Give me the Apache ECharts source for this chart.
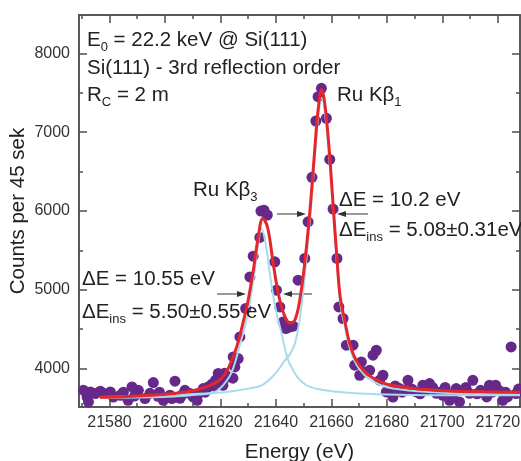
<!DOCTYPE html>
<html>
<head>
<meta charset="utf-8">
<script src="https://cdn.jsdelivr.net/npm/echarts@6/dist/echarts.min.js"></script>
<style>
html, body { margin: 0; padding: 0; background: #fff; }
#chart-01 { width: 521px; height: 461px; }
</style>
</head>
<body>
<div id="chart-01"></div>
<script>
var energy = [21570.6, 21573.1, 21574.9, 21571.9, 21572.4, 21576.7, 21580.3, 21581.4, 21583.9, 21588.1,
    21590.4, 21586.7, 21592.8, 21594.6, 21595.8, 21599.4, 21597.5, 21601.8, 21603.6, 21605.4,
    21607.2, 21609.0, 21610.2, 21611.6, 21613.8, 21615.6, 21616.9, 21619.2, 21620.6, 21622.8,
    21624.5, 21620.9, 21625.2, 21626.4, 21627.0, 21629.1, 21630.6, 21631.8, 21634.2, 21634.6,
    21635.7, 21636.9, 21639.6, 21640.2, 21641.4, 21642.6, 21644.4, 21643.6, 21645.0, 21646.2,
    21648.0, 21650.4, 21651.6, 21653.0, 21654.4, 21655.2, 21656.4, 21658.2, 21659.4, 21660.6,
    21662.0, 21662.7, 21664.2, 21665.4, 21667.8, 21668.4, 21670.8, 21672.0, 21673.8, 21670.2,
    21676.2, 21675.0, 21677.4, 21678.6, 21679.8, 21681.0, 21682.2, 21684.6, 21687.6, 21686.4,
    21690.6, 21693.0, 21695.4, 21694.3, 21697.9, 21700.2, 21702.6, 21705.0, 21706.2, 21707.3,
    21709.8, 21711.0, 21713.8, 21717.0, 21719.2, 21721.8, 21722.8, 21724.8, 21726.6, 21624.6,
    21577.5, 21585.0, 21589.0, 21598.0, 21602.5, 21606.0, 21612.5, 21614.5, 21617.5, 21618.2,
    21621.5, 21683.0, 21685.5, 21689.0, 21692.0, 21696.5, 21699.0, 21701.0, 21704.0, 21708.5,
    21712.5, 21715.0, 21716.0, 21718.0, 21720.5, 21723.5, 21727.5];
var counts = [3725, 3703, 3682, 3639, 3576, 3712, 3703, 3639, 3661, 3766,
    3724, 3597, 3619, 3686, 3822, 3597, 3648, 3661, 3839, 3623,
    3724, 3682, 3639, 3597, 3746, 3766, 3801, 3937, 3890, 3893,
    3877, 3788, 4020, 4127, 4401, 4762, 5163, 5426, 5664, 5998,
    6010, 5947, 5354, 4994, 4782, 4592, 4537, 4508, 4528, 4537,
    5121, 5397, 5862, 6426, 7141, 7449, 7556, 7175, 6654, 6023,
    5397, 4782, 4635, 4296, 4296, 4042, 4084, 3957, 3978, 3915,
    4232, 4169, 3852, 3915, 3703, 3703, 3639, 3746, 3851, 3724,
    3703, 3788, 3810, 3724, 3686, 3661, 3597, 3746, 3576, 3724,
    3686, 3851, 3724, 3788, 3788, 3597, 3699, 4274, 3682, 4147,
    3690, 3700, 3650, 3700, 3620, 3660, 3690, 3700, 3780, 3850,
    3940, 3780, 3700, 3740, 3680, 3760, 3700, 3760, 3680, 3760,
    3680, 3700, 3640, 3700, 3720, 3640, 3740];

// total fit (red)
var fitEnergy = [21576.5, 21585, 21595, 21603, 21610, 21615, 21618, 21620.5, 21622.5, 21624,
    21626, 21628, 21630, 21632, 21633.5, 21635.3, 21637, 21639, 21641, 21643,
    21645, 21647, 21649, 21651, 21652.5, 21654, 21655.3, 21656.5, 21657.7, 21659.2,
    21660.6, 21662, 21663.2, 21664.8, 21666.6, 21669, 21672, 21675, 21680, 21687,
    21695, 21705, 21715, 21728];
var fitCounts = [3636, 3642, 3660, 3683, 3718, 3770, 3815, 3880, 3980, 4100,
    4290, 4560, 4870, 5280, 5640, 5905, 5790, 5340, 4930, 4680,
    4575, 4630, 4960, 5540, 6100, 6780, 7310, 7540, 7340, 6780,
    6090, 5400, 4900, 4610, 4320, 4100, 3960, 3880, 3800, 3760,
    3732, 3712, 3704, 3698];

// Ru Kb3 component (light blue)
var kb3Energy = [21576.5, 21590, 21603, 21612, 21618, 21621, 21624, 21627, 21629.4, 21631.8,
    21633.6, 21634.8, 21636.4, 21638.2, 21640, 21642, 21644.2, 21646, 21648, 21651,
    21655, 21662, 21670, 21685, 21700, 21728];
var kb3Counts = [3627, 3633, 3645, 3670, 3703, 3790, 3950, 4300, 4620, 5110,
    5580, 5778, 5560, 5110, 4740, 4450, 4127, 3990, 3880, 3788,
    3740, 3705, 3683, 3667, 3662, 3660];

// Ru Kb1 component (light blue)
var kb1Energy = [21576.5, 21590, 21600, 21609, 21618, 21625, 21630, 21635, 21639.6, 21643.2,
    21645, 21647, 21649, 21651, 21652.5, 21654, 21655.3, 21656.5, 21657.7, 21659.2,
    21660.6, 21662, 21663.2, 21664.8, 21666.6, 21669, 21672, 21675, 21680, 21687,
    21695, 21705, 21715, 21728];
var kb1Counts = [3640, 3650, 3662, 3675, 3690, 3715, 3745, 3790, 3930, 4100,
    4175, 4333, 4733, 5390, 5975, 6662, 7198, 7433, 7237, 6680,
    5995, 5320, 4828, 4542, 4260, 4050, 3915, 3840, 3762, 3726,
    3701, 3683, 3676, 3671];

var xMajorTicks = [21580, 21600, 21620, 21640, 21660, 21680, 21700, 21720];
var xMinorTicks = [21570, 21590, 21610, 21630, 21650, 21670, 21690, 21710];
var yMajorTicks = [4000, 5000, 6000, 7000, 8000];
var yMinorTicks = [4500, 5500, 6500, 7500];

var xMin = 21569, xMax = 21728;
var yMin = 3512, yMax = 8486;

var FONT = '"Liberation Sans", Arial, sans-serif';
var frameColor = '#4f4f4f';
var textColor = '#222';

function pair(xs, ys) {
    var out = [];
    for (var i = 0; i < xs.length; i++) out.push([xs[i], ys[i]]);
    return out;
}

function plain(v) { return String(v); }

function xAxisOf(pos, ticks, len, labels) {
    return {
        type: 'value', position: pos, min: xMin, max: xMax,
        axisLine: { show: true, onZero: false, lineStyle: { color: frameColor, width: 1.5 } },
        axisTick: { show: true, inside: true, length: len, customValues: ticks,
            lineStyle: { color: frameColor, width: 1.5 } },
        axisLabel: labels ? { show: true, customValues: ticks, margin: 8, fontSize: 16,
            fontFamily: FONT, color: '#333', formatter: plain } : { show: false },
        splitLine: { show: false }
    };
}
function yAxisOf(pos, ticks, len, labels) {
    return {
        type: 'value', position: pos, min: yMin, max: yMax,
        axisLine: { show: true, onZero: false, lineStyle: { color: frameColor, width: 1.5 } },
        axisTick: { show: true, inside: true, length: len, customValues: ticks,
            lineStyle: { color: frameColor, width: 1.5 } },
        axisLabel: labels ? { show: true, customValues: ticks, margin: 9, fontSize: 16,
            fontFamily: FONT, color: '#333', formatter: plain } : { show: false },
        splitLine: { show: false }
    };
}

var xAxes = [
    xAxisOf('bottom', xMajorTicks, 8, true),
    xAxisOf('bottom', xMinorTicks, 4, false),
    xAxisOf('top', xMajorTicks, 8, false),
    xAxisOf('top', xMinorTicks, 4, false)
];
xAxes[0].name = 'Energy (eV)';
xAxes[0].nameLocation = 'middle';
xAxes[0].nameGap = 35;
xAxes[0].nameTextStyle = { fontSize: 20.5, fontFamily: FONT, color: textColor };

var yAxes = [
    yAxisOf('left', yMajorTicks, 8, true),
    yAxisOf('left', yMinorTicks, 4, false),
    yAxisOf('right', yMajorTicks, 8, false),
    yAxisOf('right', yMinorTicks, 4, false)
];
yAxes[0].name = 'Counts per 45 sek';
yAxes[0].nameLocation = 'middle';
yAxes[0].nameGap = 50;
yAxes[0].nameMoveOverlap = false;
yAxes[0].nameTextStyle = { fontSize: 20.5, fontFamily: FONT, color: textColor };

var rich = {
    n: { fontSize: 20.5, fontFamily: FONT, color: textColor, lineHeight: 28 },
    s: { fontSize: 13, fontFamily: FONT, color: textColor, lineHeight: 13, verticalAlign: 'bottom' }
};

function label(x, y, txt) {
    return {
        type: 'text', x: x, y: y, z: 100,
        style: { text: txt, rich: rich, align: 'left', verticalAlign: 'middle', fill: textColor }
    };
}

function arrow(x1, x2, y) {
    var dir = x2 > x1 ? 1 : -1;
    return {
        type: 'group', z: 100,
        children: [
            { type: 'line', shape: { x1: x1, y1: y, x2: x2 - dir * 7, y2: y },
              style: { stroke: '#333', lineWidth: 1 } },
            { type: 'polygon', shape: { points: [[x2, y], [x2 - dir * 9, y - 3], [x2 - dir * 9, y + 3]] },
              style: { fill: '#333' } }
        ]
    };
}

var myChart01 = echarts.init(document.getElementById('chart-01'));
var option01 = {
    animation: false,
    backgroundColor: '#fff',
    grid: { left: 79, right: 1, top: 15, bottom: 54, containLabel: false, outerBoundsMode: 'none' },
    xAxis: xAxes,
    yAxis: yAxes,
    series: [
        {
            name: 'data', type: 'scatter', xAxisIndex: 0, yAxisIndex: 0,
            symbolSize: 11, z: 2,
            itemStyle: { color: '#66298a', opacity: 1 },
            data: pair(energy, counts)
        },
        {
            name: 'Ru Kb3', type: 'line', xAxisIndex: 0, yAxisIndex: 0,
            showSymbol: false, smooth: 0.4, z: 3,
            lineStyle: { color: '#a6dcee', width: 2 },
            data: pair(kb3Energy, kb3Counts)
        },
        {
            name: 'Ru Kb1', type: 'line', xAxisIndex: 0, yAxisIndex: 0,
            showSymbol: false, smooth: 0.4, z: 3,
            lineStyle: { color: '#a6dcee', width: 2 },
            data: pair(kb1Energy, kb1Counts)
        },
        {
            name: 'fit', type: 'line', xAxisIndex: 0, yAxisIndex: 0,
            showSymbol: false, smooth: 0.4, z: 4,
            lineStyle: { color: '#e5262b', width: 3 },
            data: pair(fitEnergy, fitCounts)
        }
    ],
    graphic: [
        label(87, 40, '{n|E}{s|0}{n| = 22.2 keV @ Si(111)}'),
        label(87, 68, '{n|Si(111) - 3rd reflection order}'),
        label(87, 95, '{n|R}{s|C}{n| = 2 m}'),
        label(337, 95, '{n|Ru K\u03b2}{s|1}'),
        label(193, 190, '{n|Ru K\u03b2}{s|3}'),
        label(339, 200, '{n|\u0394E = 10.2 eV}'),
        label(339, 230, '{n|\u0394E}{s|ins}{n| = 5.08\u00b10.31eV}'),
        label(82, 279, '{n|\u0394E = 10.55 eV}'),
        label(82, 312, '{n|\u0394E}{s|ins}{n| = 5.50\u00b10.55 eV}'),
        arrow(277, 306, 214),
        arrow(368, 337, 214),
        arrow(217, 246, 294),
        arrow(312, 283, 294)
    ]
};
myChart01.setOption(option01);
</script>
</body>
</html>
